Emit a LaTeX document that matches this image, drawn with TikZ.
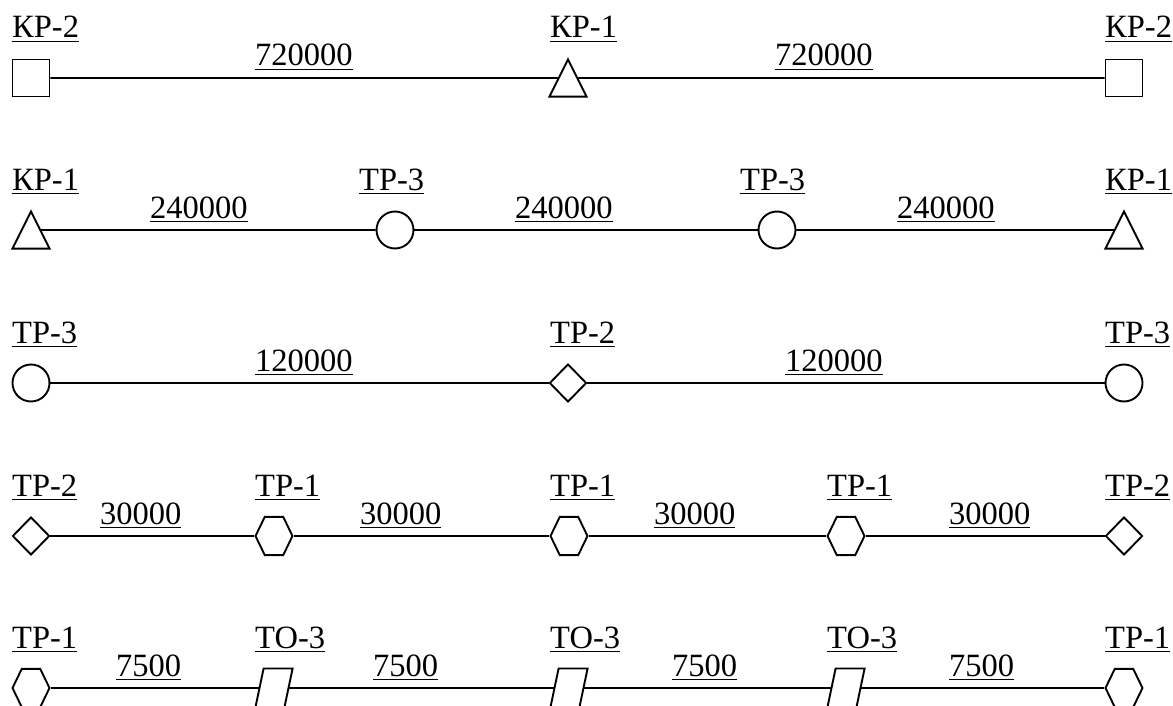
\documentclass[tikz,border=0pt]{standalone}
\usepackage{fontspec}
\setmainfont{Liberation Serif}
\usepackage{tikz}
\usetikzlibrary{shapes.geometric}

% underlined label text
\newcommand\ul[1]{\setbox0\hbox{#1}\rlap{\rule[-4.4pt]{\wd0}{1.7pt}}\box0}

\tikzset{
    stn/.style={draw, line width=1.9pt, inner sep=0pt, fill=white},
    sqr/.style={stn, rectangle, minimum size=37pt},
    tri/.style={stn, regular polygon, regular polygon sides=3, outer sep=0pt,
        minimum size=42.8pt, yscale=1.155},
    crc/.style={stn, circle, minimum size=37pt},
    dmd/.style={stn, diamond, minimum width=37pt, minimum height=38pt},
    hexa/.style={stn, regular polygon, regular polygon sides=6,
        minimum size=37pt, yscale=1.19},
    prl/.style={stn, rectangle, minimum width=29pt, minimum height=39pt, xslant=0.21},
    lbl/.style={anchor=base west, inner sep=0pt, font=\fontsize{32.5}{32.5}\selectfont},
    link/.style={line width=1.9pt}
}

\begin{document}
\begin{tikzpicture}[x=1pt, y=-1pt]
    \useasboundingbox (0,0) rectangle (1173,706);

    % row 1
    \node[sqr] (a1) at (31,78) {};
    \node[tri] (a2) at (568,84.2) {};
    \node[sqr] (a3) at (1124,78) {};
    \draw[link] (a1) -- (a2.side 1);
    \draw[link] (a2.side 3) -- (a3);
    \node[lbl] (la1) at (12,38) {\ul{КР-2}};
    \node[lbl] (la2) at (550,38) {\ul{КР-1}};
    \node[lbl] (la3) at (1105,38) {\ul{КР-2}};
    \node[lbl] (ea1) at (255,66) {\ul{720000}};
    \node[lbl] (ea2) at (775,66) {\ul{720000}};

    % row 2
    \node[tri] (b1) at (31,236.2) {};
    \node[crc] (b2) at (395,230) {};
    \node[crc] (b3) at (777,230) {};
    \node[tri] (b4) at (1124,236.2) {};
    \draw[link] (b1.side 3) -- (b2);
    \draw[link] (b2) -- (b3);
    \draw[link] (b3) -- (b4.side 1);
    \node[lbl] (lb1) at (12,190) {\ul{КР-1}};
    \node[lbl] (lb2) at (359,190) {\ul{ТР-3}};
    \node[lbl] (lb3) at (740,190) {\ul{ТР-3}};
    \node[lbl] (lb4) at (1105,190) {\ul{КР-1}};
    \node[lbl] (eb1) at (150,218) {\ul{240000}};
    \node[lbl] (eb2) at (515,218) {\ul{240000}};
    \node[lbl] (eb3) at (897,218) {\ul{240000}};

    % row 3
    \node[crc] (c1) at (31,383) {};
    \node[dmd] (c2) at (568,383) {};
    \node[crc] (c3) at (1124,383) {};
    \draw[link] (c1) -- (c2);
    \draw[link] (c2) -- (c3);
    \node[lbl] (lc1) at (12,343) {\ul{ТР-3}};
    \node[lbl] (lc2) at (550,343) {\ul{ТР-2}};
    \node[lbl] (lc3) at (1105,343) {\ul{ТР-3}};
    \node[lbl] (ec1) at (255,371) {\ul{120000}};
    \node[lbl] (ec2) at (785,371) {\ul{120000}};

    % row 4
    \node[dmd] (d1) at (31,536) {};
    \node[hexa] (d2) at (274,536) {};
    \node[hexa] (d3) at (569,536) {};
    \node[hexa] (d4) at (846,536) {};
    \node[dmd] (d5) at (1124,536) {};
    \draw[link] (d1) -- (d2);
    \draw[link] (d2) -- (d3);
    \draw[link] (d3) -- (d4);
    \draw[link] (d4) -- (d5);
    \node[lbl] (ld1) at (12,496) {\ul{ТР-2}};
    \node[lbl] (ld2) at (255,496) {\ul{ТР-1}};
    \node[lbl] (ld3) at (550,496) {\ul{ТР-1}};
    \node[lbl] (ld4) at (827,496) {\ul{ТР-1}};
    \node[lbl] (ld5) at (1105,496) {\ul{ТР-2}};
    \node[lbl] (ed1) at (100,524) {\ul{30000}};
    \node[lbl] (ed2) at (360,524) {\ul{30000}};
    \node[lbl] (ed3) at (654,524) {\ul{30000}};
    \node[lbl] (ed4) at (949,524) {\ul{30000}};

    % row 5
    \node[hexa] (e1) at (31,688) {};
    \node[prl] (e2) at (274,688) {};
    \node[prl] (e3) at (569,688) {};
    \node[prl] (e4) at (846,688) {};
    \node[hexa] (e5) at (1124,688) {};
    \draw[link] (e1) -- (e2);
    \draw[link] (e2) -- (e3);
    \draw[link] (e3) -- (e4);
    \draw[link] (e4) -- (e5);
    \node[lbl] (le1) at (12,648) {\ul{ТР-1}};
    \node[lbl] (le2) at (255,648) {\ul{ТО-3}};
    \node[lbl] (le3) at (550,648) {\ul{ТО-3}};
    \node[lbl] (le4) at (827,648) {\ul{ТО-3}};
    \node[lbl] (le5) at (1105,648) {\ul{ТР-1}};
    \node[lbl] (ee1) at (116,676) {\ul{7500}};
    \node[lbl] (ee2) at (373,676) {\ul{7500}};
    \node[lbl] (ee3) at (672,676) {\ul{7500}};
    \node[lbl] (ee4) at (949,676) {\ul{7500}};
\end{tikzpicture}
\end{document}
